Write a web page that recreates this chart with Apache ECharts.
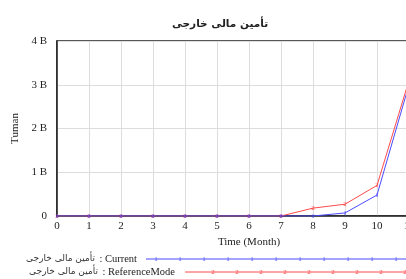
<!DOCTYPE html>
<html><head><meta charset="utf-8">
<script src="https://cdn.jsdelivr.net/npm/echarts@6/dist/echarts.min.js"></script>
<style>html,body{margin:0;padding:0;background:#fff}#c{width:406px;height:279px}</style>
</head><body><div id="c"></div>
<script>
const titleText = 'تأمین مالی خارجی';
const months = [0,1,2,3,4,5,6,7,8,9,10,11,12];
const currentVals = [0,0,0,0,0,0,0,0,0,0.07e9,0.48e9,3.0e9];
const referenceVals = [0,0,0,0,0,0,0,0,0.18e9,0.27e9,0.70e9,3.1e9];
const yTicks = ['0','1 B','2 B','3 B','4 B'];
const varName = 'تأمین مالی خارجی';
const currentRun = ' : Current';
const referenceRun = ' : ReferenceMode';
const currentName = varName + currentRun;
const referenceName = varName + referenceRun;

const chart = echarts.init(document.getElementById('c'));
const serif = 'Liberation Serif, DejaVu Serif, serif';
const blue = '#4a4aff', red = '#ff4a4a';

function pairs(vals){ return vals.map((v,i)=>[months[i], v]); }

function legendGraphics(){
  const g = [];
  const rows = [
    {run: currentRun, y: 259, x0: 146, first: 156, mark: '1', color: blue, tr: 137, off: 42},
    {run: referenceRun, y: 272, x0: 185, first: 213, mark: '2', color: red, tr: 175, off: 77}
  ];
  rows.forEach(r=>{
    g.push({type:'text', x: r.tr, y: r.y,
      style:{text:r.run, font:'10.5px '+serif, fill:'#222', textAlign:'right', textVerticalAlign:'middle'}});
    g.push({type:'text', x: r.tr - r.off, y: r.y,
      style:{text:varName, font:'9px DejaVu Sans, sans-serif', fill:'#333', textAlign:'right', textVerticalAlign:'middle'}});
    g.push({type:'line', shape:{x1:r.x0, y1:r.y, x2:406, y2:r.y}, style:{stroke:r.color, lineWidth:1}});
    for(let x=r.first; x<410; x+=24){
      g.push({type:'text', x:x, y:r.y, style:{text:r.mark, font:'7px '+serif, fill:r.color, textAlign:'center', textVerticalAlign:'middle'}});
    }
  });
  return g;
}

chart.setOption({
  animation:false,
  backgroundColor:'#fff',
  grid:{left:57, top:41, right:-35, bottom:63, show:true, borderColor:'#222', borderWidth:1.5,
    outerBoundsMode:'none', containLabel:false},
  graphic:[
    {type:'text', x:220, y:19, style:{text:titleText, font:'bold 10.5px DejaVu Sans, sans-serif', fill:'#222', textAlign:'center'}}
  ].concat(legendGraphics()),
  xAxis:{type:'value', min:0, max:12, interval:1,
    name:'Time (Month)', nameLocation:'middle', nameGap:19,
    nameTextStyle:{fontFamily:serif, fontSize:11, color:'#222'},
    axisLine:{lineStyle:{color:'#222', width:1.5}}, axisTick:{show:false},
    axisLabel:{fontFamily:serif, fontSize:11, color:'#222', margin:5},
    splitLine:{show:true, lineStyle:{color:'#ddd', width:1}}},
  yAxis:{type:'value', min:0, max:4e9, interval:1e9,
    name:'Tuman', nameLocation:'middle', nameGap:31, nameRotate:90,
    nameTextStyle:{fontFamily:serif, fontSize:11, color:'#222'},
    axisLine:{show:true, lineStyle:{color:'#222', width:1.5}}, axisTick:{show:false},
    axisLabel:{fontFamily:serif, fontSize:11, color:'#222', margin:10,
      formatter:v=>yTicks[Math.round(v/1e9)]},
    splitLine:{show:true, lineStyle:{color:'#ddd', width:1}}},
  series:[
    {name:referenceName, type:'line', data:pairs(referenceVals), symbol:'circle', symbolSize:1, showSymbol:true,
      itemStyle:{color:red}, lineStyle:{color:red, width:1}, z:2,
      label:{show:true, position:'inside', formatter:'2', fontSize:7, color:red, fontFamily:serif}},
    {name:currentName, type:'line', data:pairs(currentVals), symbol:'circle', symbolSize:1, showSymbol:true,
      itemStyle:{color:blue}, lineStyle:{color:blue, width:1}, z:3,
      label:{show:true, position:'inside', formatter:'1', fontSize:7, color:blue, fontFamily:serif}}
  ]
});
</script></body></html>
